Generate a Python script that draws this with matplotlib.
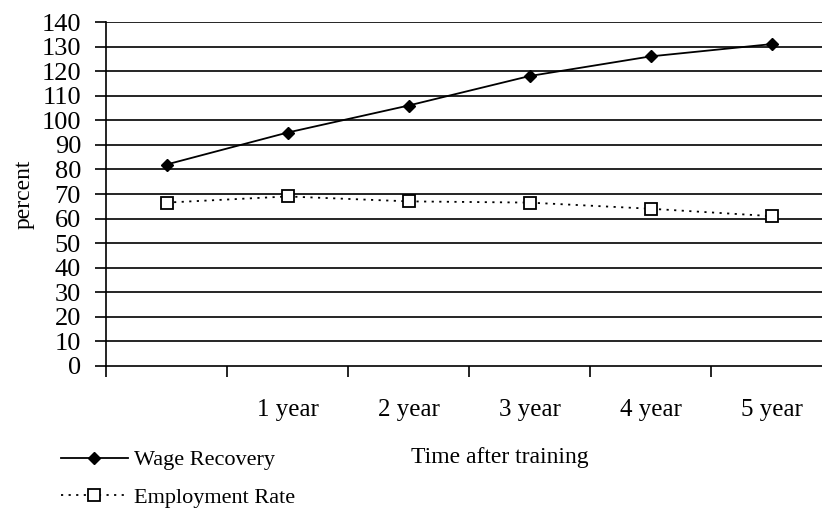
import numpy as np
import matplotlib
matplotlib.use('Agg')
import matplotlib.pyplot as plt
from matplotlib.ticker import FixedLocator, NullFormatter

plt.rcParams['font.family'] = ['Liberation Serif', 'DejaVu Serif']

# Data
categories = ['', '1 year', '2 year', '3 year', '4 year', '5 year']
wage_recovery = [82, 95, 106, 118, 126, 131]
employment_rate = [66.5, 69, 67, 66.5, 64, 61]
yticks = list(range(0, 141, 10))

fig = plt.figure(figsize=(8.22, 5.08), dpi=100)
ax = fig.add_axes([106 / 822, 1 - 366 / 508, 1 - 106 / 822, (366 - 22) / 508])

x = np.arange(len(categories))
ax.plot(x, wage_recovery, color='black', lw=1.3, marker='D', ms=6.5,
        mfc='black', mec='black', label='Wage Recovery', zorder=3)
ax.plot(x, employment_rate, color='black', lw=1.3, ls=(0, (1.2, 3)), marker='s', ms=8,
        mfc='white', mec='black', mew=1.3, label='Employment Rate', zorder=3)

# horizontal gridlines
for v in yticks[1:]:
    ax.axhline(v, color='black', lw=1.2, zorder=1)

ax.set_ylim(0, 140)
ax.set_xlim(-0.5, -0.5 + (822 - 106) / 121)
ax.set_yticks(yticks)
ax.tick_params(axis='y', direction='out', length=8, width=1.2, labelsize=19, pad=10)

# category boundaries as ticks, labels at category centres
ax.xaxis.set_major_locator(FixedLocator(np.arange(-0.5, 5, 1.0)))
ax.xaxis.set_major_formatter(NullFormatter())
ax.xaxis.set_minor_locator(FixedLocator(x))
ax.set_xticklabels(categories, minor=True)
ax.tick_params(axis='x', which='major', direction='out', length=8, width=1.2)
ax.tick_params(axis='x', which='minor', length=0, labelsize=18, pad=24)

for s in ['top', 'right']:
    ax.spines[s].set_visible(False)
ax.spines['left'].set_linewidth(1.2)
ax.spines['bottom'].set_linewidth(1.2)

ax.set_ylabel('percent', fontsize=17, labelpad=5)
fig.text(500 / 822, 1 - 458 / 508, 'Time after training', fontsize=17,
         ha='center', va='center')

fig.legend(loc='upper left', bbox_to_anchor=(52 / 822, 1 - 441 / 508), frameon=False,
           fontsize=16, handlelength=3.0, handletextpad=0.3, labelspacing=0.75,
           borderaxespad=0)

fig.savefig('out.png', dpi=100)
